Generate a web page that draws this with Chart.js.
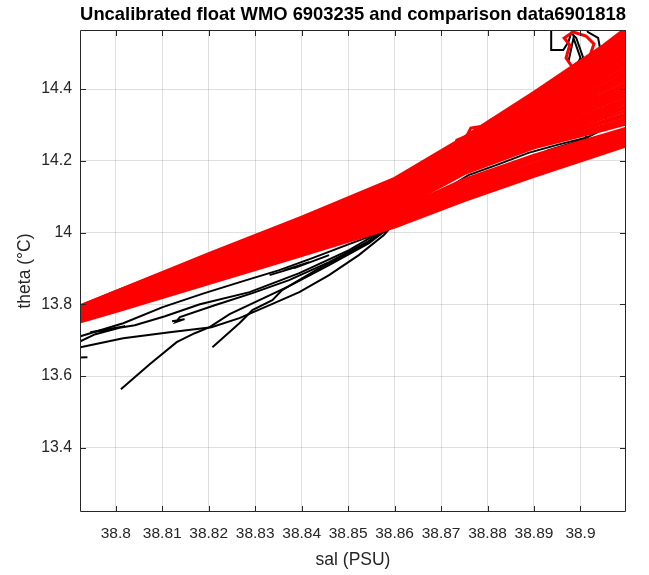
<!DOCTYPE html>
<html><head><meta charset="utf-8">
<script src="https://cdn.jsdelivr.net/npm/chart.js@4.4.0/dist/chart.umd.min.js"></script>
<style>html,body{margin:0;padding:0;background:#fff;}canvas{display:block}</style>
</head><body>
<canvas id="c" width="649" height="575"></canvas>
<script>
// ---- axis ticks ----
const xTickValues = [38.80, 38.81, 38.82, 38.83, 38.84, 38.85, 38.86, 38.87, 38.88, 38.89, 38.90];
const xTickLabels = ['38.8', '38.81', '38.82', '38.83', '38.84', '38.85', '38.86', '38.87', '38.88', '38.89', '38.9'];
const yTickValues = [13.4, 13.6, 13.8, 14.0, 14.2, 14.4];
const yTickLabels = ['13.4', '13.6', '13.8', '14', '14.2', '14.4'];

// ---- comparison data (red) : salinity grid and theta per profile ----
const redSal = [38.785, 38.80, 38.82, 38.84, 38.86, 38.875, 38.89, 38.905, 38.915];
const redLowTheta = [
  [13.723, 13.780, 13.858, 13.936, 14.015, 14.089, 14.157, 14.221, 14.264],
  [13.725, 13.784, 13.862, 13.942, 14.020, 14.095, 14.162, 14.227, 14.269],
  [13.727, 13.787, 13.865, 13.947, 14.025, 14.101, 14.167, 14.233, 14.274],
  [13.729, 13.789, 13.869, 13.950, 14.031, 14.106, 14.174, 14.238, 14.280],
  [13.731, 13.791, 13.873, 13.952, 14.036, 14.111, 14.181, 14.242, 14.286],
  [13.733, 13.795, 13.875, 13.957, 14.040, 14.118, 14.187, 14.249, 14.290],
  [13.735, 13.798, 13.877, 13.961, 14.043, 14.125, 14.192, 14.255, 14.294],
  [13.738, 13.799, 13.881, 13.964, 14.048, 14.130, 14.200, 14.259, 14.300],
  [13.740, 13.800, 13.885, 13.966, 14.053, 14.135, 14.207, 14.263, 14.305],
  [13.742, 13.803, 13.887, 13.971, 14.056, 14.142, 14.212, 14.268, 14.308],
  [13.743, 13.806, 13.889, 13.975, 14.059, 14.148, 14.216, 14.272, 14.311]
];
const redMainTheta = [
  [13.744, 13.805, 13.891, 13.973, 14.059, 14.164, 14.236, 14.286, 14.321],
  [13.746, 13.808, 13.890, 13.978, 14.066, 14.170, 14.240, 14.292, 14.330],
  [13.745, 13.807, 13.895, 13.980, 14.066, 14.175, 14.249, 14.306, 14.346],
  [13.747, 13.811, 13.897, 13.981, 14.072, 14.176, 14.252, 14.311, 14.352],
  [13.746, 13.810, 13.899, 13.986, 14.075, 14.183, 14.262, 14.325, 14.371],
  [13.748, 13.813, 13.899, 13.989, 14.077, 14.184, 14.265, 14.330, 14.377],
  [13.747, 13.812, 13.903, 13.991, 14.084, 14.190, 14.274, 14.343, 14.395],
  [13.749, 13.815, 13.905, 13.992, 14.085, 14.195, 14.277, 14.349, 14.401],
  [13.748, 13.816, 13.906, 13.997, 14.090, 14.196, 14.286, 14.362, 14.419],
  [13.750, 13.817, 13.909, 13.999, 14.093, 14.203, 14.292, 14.369, 14.425],
  [13.749, 13.819, 13.910, 14.002, 14.095, 14.204, 14.298, 14.381, 14.443],
  [13.751, 13.818, 13.913, 14.004, 14.101, 14.210, 14.302, 14.386, 14.449],
  [13.750, 13.821, 13.914, 14.006, 14.103, 14.214, 14.311, 14.399, 14.466],
  [13.752, 13.822, 13.917, 14.010, 14.108, 14.216, 14.315, 14.405, 14.473],
  [13.751, 13.824, 13.918, 14.012, 14.110, 14.222, 14.323, 14.419, 14.490],
  [13.753, 13.823, 13.921, 14.016, 14.115, 14.226, 14.327, 14.424, 14.497],
  [13.752, 13.826, 13.922, 14.017, 14.117, 14.230, 14.336, 14.437, 14.515],
  [13.754, 13.827, 13.925, 14.021, 14.122, 14.232, 14.339, 14.443, 14.521],
  [13.753, 13.828, 13.926, 14.024, 14.124, 14.238, 14.348, 14.456, 14.538],
  [13.755, 13.830, 13.929, 14.025, 14.129, 14.242, 14.352, 14.462, 14.545],
  [13.754, 13.829, 13.930, 14.029, 14.131, 14.244, 14.360, 14.475, 14.562],
  [13.756, 13.832, 13.933, 14.032, 14.137, 14.250, 14.364, 14.480, 14.569],
  [13.755, 13.833, 13.934, 14.034, 14.139, 14.254, 14.372, 14.494, 14.587],
  [13.757, 13.834, 13.937, 14.038, 14.144, 14.256, 14.377, 14.499, 14.593],
  [13.756, 13.835, 13.938, 14.039, 14.146, 14.262, 14.385, 14.513, 14.610],
  [13.757, 13.836, 13.941, 14.043, 14.151, 14.266, 14.391, 14.522, 14.622]
];
const redMidTheta = [
  [13.746, 13.809, 13.892, 13.978, 14.067, 14.172, 14.246, 14.298, 14.339],
  [13.747, 13.810, 13.898, 13.985, 14.073, 14.181, 14.256, 14.319, 14.361],
  [13.748, 13.814, 13.901, 13.989, 14.082, 14.187, 14.269, 14.336, 14.387],
  [13.749, 13.815, 13.907, 13.995, 14.087, 14.197, 14.283, 14.357, 14.409],
  [13.750, 13.818, 13.909, 14.000, 14.094, 14.203, 14.294, 14.374, 14.435],
  [13.751, 13.820, 13.914, 14.006, 14.101, 14.211, 14.306, 14.394, 14.457],
  [13.752, 13.822, 13.918, 14.011, 14.110, 14.220, 14.320, 14.411, 14.483],
  [13.753, 13.825, 13.921, 14.017, 14.116, 14.227, 14.331, 14.432, 14.505],
  [13.754, 13.827, 13.926, 14.022, 14.123, 14.236, 14.345, 14.449, 14.531],
  [13.755, 13.831, 13.929, 14.028, 14.130, 14.243, 14.355, 14.470, 14.553],
  [13.756, 13.832, 13.934, 14.033, 14.137, 14.252, 14.369, 14.486, 14.579],
  [13.757, 13.835, 13.938, 14.039, 14.145, 14.258, 14.380, 14.507, 14.601]
];
const redBump1 = [[38.8673,14.1462],[38.8727,14.2299],[38.8734,14.2578],[38.8755,14.2689],[38.8764,14.2912],[38.8792,14.2968],[38.8807,14.3136],[38.8824,14.3192],[38.8866,14.3470],[38.8924,14.4000],[38.8995,14.4642],[38.9060,14.5228],[38.9124,14.5925]];
const redBump2 = [[38.8673,14.1322],[38.8734,14.2410],[38.8759,14.2578],[38.8802,14.2912],[38.8866,14.3303],[38.8931,14.3833],[38.9016,14.4530],[38.9102,14.5367]];
const redLoop = [[38.8987,14.4530],[38.8969,14.4865],[38.8977,14.5228],[38.8965,14.5423],[38.8984,14.5590],[38.9012,14.5479],[38.9029,14.5256],[38.9021,14.4949],[38.9006,14.4753],[38.9016,14.4586]];

// ---- float 6903235 profiles (black), [sal, theta] ----
const float1 = [[38.7902,13.7027],[38.7924,13.7110],[38.8016,13.7473],[38.8101,13.7920],[38.8191,13.8310],[38.8281,13.8673],[38.8352,13.8951],[38.8423,13.9286],[38.8502,13.9677],[38.8566,13.9984],[38.8598,14.0235],[38.8673,14.0765],[38.8759,14.1322],[38.8845,14.1825],[38.8931,14.2299],[38.9016,14.2633],[38.8985,14.3000],[38.8970,14.3800],[38.8975,14.4400],[38.8980,14.4614],[38.8995,14.4753],[38.9006,14.4865],[38.8991,14.5423],[38.8980,14.5562],[38.8974,14.5311],[38.8963,14.5088],[38.8937,14.5088],[38.8937,14.5702],[38.8937,14.6064]];
const float2 = [[38.7902,13.6748],[38.7924,13.6804],[38.8016,13.7055],[38.8116,13.7222],[38.8206,13.7362],[38.8266,13.7613],[38.8331,13.7975],[38.8395,13.8338],[38.8459,13.8812],[38.8523,13.9370],[38.8577,13.9928],[38.8598,14.0235],[38.8673,14.0904],[38.8759,14.1600],[38.8823,14.1900],[38.8888,14.2220],[38.8952,14.2450],[38.9016,14.2660],[38.9060,14.2950],[38.9048,14.3415],[38.9020,14.4112],[38.9010,14.4753],[38.9027,14.4865],[38.9042,14.5144],[38.9038,14.5423],[38.9016,14.5590],[38.9006,14.5869]];
const float3 = [[38.8011,13.5632],[38.8073,13.6329],[38.8131,13.6943],[38.8170,13.7194],[38.8202,13.7362],[38.8245,13.7724],[38.8309,13.8115],[38.8373,13.8505],[38.8459,13.9091],[38.8545,13.9705],[38.8598,14.0235],[38.8673,14.0700],[38.8780,14.1250],[38.8910,14.1900],[38.9038,14.2450],[38.9124,14.2850]];
const float4 = [[38.8208,13.6804],[38.8266,13.7473],[38.8294,13.7836],[38.8337,13.8115],[38.8358,13.8394],[38.8431,13.8951],[38.8481,13.9286],[38.8538,13.9705],[38.8594,14.0151],[38.8673,14.0660],[38.8780,14.1180],[38.8910,14.1830],[38.9038,14.2400],[38.9124,14.2800]];
const float5 = [[38.8121,13.7529],[38.8148,13.7585],[38.8129,13.7501],[38.8138,13.7641],[38.8213,13.7975],[38.8294,13.8310],[38.8373,13.8673],[38.8459,13.9175],[38.8545,13.9760],[38.8598,14.0235],[38.8673,14.0750],[38.8780,14.1300],[38.8910,14.1950],[38.9038,14.2500]];
const float6 = [[38.7902,13.6915],[38.7924,13.6971],[38.7956,13.7166],[38.8020,13.7389],[38.7945,13.7222],[38.7988,13.7306],[38.8041,13.7417],[38.8106,13.7668],[38.8181,13.8003],[38.8288,13.8338],[38.8395,13.8868],[38.8502,13.9509],[38.8598,14.0235],[38.8673,14.0720],[38.8780,14.1270],[38.8910,14.1920]];
const float7 = [[38.7881,13.6497],[38.7939,13.6525]];
const float8 = [[38.8974,14.4753],[38.8985,14.5423],[38.9000,14.4865],[38.8991,14.4642]];
const float9 = [[38.8331,13.8812],[38.8395,13.9063],[38.8363,13.8951],[38.8416,13.9175],[38.8384,13.9007],[38.8459,13.9370]];

const FONT = "'Liberation Sans', Arial, Helvetica, sans-serif";
const pairs = arr => arr.map(p => ({x: p[0], y: p[1]}));
const lineDs = (data, color, width, order) => ({
  data, borderColor: color, backgroundColor: color, borderWidth: width,
  showLine: true, pointRadius: 0, pointHoverRadius: 0, tension: 0, fill: false, order, clip: 0
});

const datasets = [];
[...redLowTheta, ...redMainTheta, ...redMidTheta].forEach(th => {
  datasets.push(lineDs(th.map((t, i) => ({x: redSal[i], y: t})), '#ff0000', 3, 1));
});
[redBump1, redBump2, redLoop].forEach(a => datasets.push(lineDs(pairs(a), '#ff0000', 3, 1)));
[float1, float2, float3, float4, float5, float6, float7, float8, float9].forEach(a =>
  datasets.push(lineDs(pairs(a), '#000000', 2, 2)));

const boxPlugin = {
  id: 'boxTicks',
  afterDraw(chart) {
    const {ctx, chartArea: a, scales: {x, y}} = chart;
    ctx.save();
    ctx.strokeStyle = '#262626';
    ctx.lineWidth = 1;
    ctx.beginPath();
    const L = a.left + 0.5, R = a.right - 0.5, T = a.top + 0.5, B = a.bottom - 0.5;
    ctx.moveTo(L, T); ctx.lineTo(R, T); ctx.lineTo(R, B); ctx.lineTo(L, B); ctx.closePath();
    const tl = 5.5;
    xTickValues.forEach(v => {
      const p = Math.round(x.getPixelForValue(v)) + 0.5;
      ctx.moveTo(p, B); ctx.lineTo(p, B - tl);
      ctx.moveTo(p, T); ctx.lineTo(p, T + tl);
    });
    yTickValues.forEach(v => {
      const p = Math.round(y.getPixelForValue(v)) + 0.5;
      ctx.moveTo(L, p); ctx.lineTo(L + tl, p);
      ctx.moveTo(R, p); ctx.lineTo(R - tl, p);
    });
    ctx.stroke();
    ctx.restore();
  }
};

new Chart(document.getElementById('c'), {
  type: 'scatter',
  data: {datasets},
  plugins: [boxPlugin],
  options: {
    responsive: false,
    animation: false,
    devicePixelRatio: 1,
    events: [],
    layout: {padding: {left: 0, right: 23, top: 0, bottom: 0}},
    plugins: {
      legend: {display: false},
      tooltip: {enabled: false},
      title: {
        display: true, fullSize: false,
        text: 'Uncalibrated float WMO 6903235 and comparison data6901818',
        color: '#000', font: {family: FONT, size: 18.4, weight: 'bold', lineHeight: '22px'},
        padding: {top: 4, bottom: 4}
      }
    },
    scales: {
      x: {
        type: 'linear', min: 38.7923, max: 38.9098,
        afterBuildTicks: s => { s.ticks = xTickValues.map(v => ({value: v})); },
        afterFit: s => { s.height = 63; },
        ticks: {
          autoSkip: false, maxRotation: 0, padding: 12, color: '#262626',
          font: {family: FONT, size: 15.5},
          callback: (v) => { const i = xTickValues.findIndex(t => Math.abs(t - v) < 1e-6); return i >= 0 ? xTickLabels[i] : ''; }
        },
        grid: {color: 'rgba(38,38,38,0.15)', drawTicks: false, lineWidth: 1},
        border: {display: false},
        title: {display: true, text: 'sal (PSU)', color: '#262626', font: {family: FONT, size: 17.5}, padding: {top: 0, bottom: 4}}
      },
      y: {
        type: 'linear', min: 13.221, max: 14.5646,
        afterBuildTicks: s => { s.ticks = yTickValues.map(v => ({value: v})); },
        afterFit: s => { s.width = 80; },
        ticks: {
          autoSkip: false, padding: 8, color: '#262626',
          font: {family: FONT, size: 15.8},
          callback: (v) => { const i = yTickValues.findIndex(t => Math.abs(t - v) < 1e-6); return i >= 0 ? yTickLabels[i] : ''; }
        },
        grid: {color: 'rgba(38,38,38,0.15)', drawTicks: false, lineWidth: 1},
        border: {display: false},
        title: {display: true, text: 'theta (°C)', color: '#262626', font: {family: FONT, size: 17.5}, padding: {top: 15, bottom: 0}}
      }
    }
  }
});
</script>
</body></html>
